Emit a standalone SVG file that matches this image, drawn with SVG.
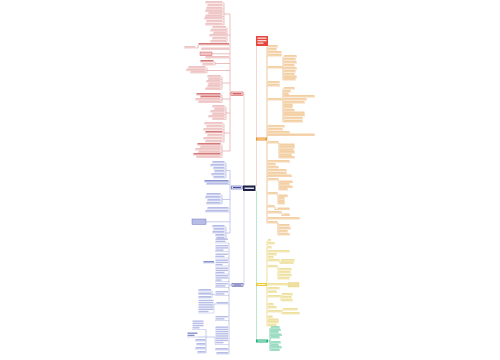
<svg xmlns="http://www.w3.org/2000/svg" width="500" height="360" viewBox="0 0 500 360">
<style>
path{fill:none;stroke-width:.5}
.r rect{fill:#efc4c4}.r path{stroke:#e3a3a3}.r .dk rect{fill:#d97a7a}
.b rect{fill:#b7bde6}.b path{stroke:#aeb5e2}.b .dk rect{fill:#8a92d0}
.o rect{fill:#f3cfa3}.o path{stroke:#e8b06e}
.y rect{fill:#eee0a0}.y path{stroke:#e6d170}
.g rect{fill:#9adcc0}.g path{stroke:#4fc195}
#conn path{stroke-width:.7}
</style>
<rect width="500" height="360" fill="#fff"/>
<g id="conn">
<path d="M256.5 186V46" stroke="#f1c4bf"/>
<path d="M256.5 191V341" stroke="#9edcc0"/>
<path d="M244 185.5V94H243" stroke="#f1c2c2"/>
<path d="M244 191V285H243" stroke="#bfc5ee"/>
<path d="M230 14V151M224 3V25M224 14H230M227 28V42M227 35H230M196 48H198V45M212 53.8H230M215 62V65M215 63.5H230M207 68V73M207 70.5H230M222 77V89.5M222 83H230M222 95V102.5M222 99H230M226 107V119.5M226 113H230M224 124V142M224 133H230M222 145V157.5M222 151H230M230 93.8H231" stroke="#e3a3a3"/>
<path d="M230 170.5V233M230 187.5H231.5M226 163V178M226 170.5H230M222 195V204M222 199.5H230M206 221.8H230M226 227V239M226 233H230" stroke="#aeb5e2"/>
<path d="M229 243V354M229 285H232M212 291V298M212 294.5H215M216 304H214M206 329.5V353M198 337H215" stroke="#aeb5e2"/>
<path d="M267 47V223M266.5 139H267M283 57V80M283 89V122M279 143V158M279 180V190M278 194V204M275 207V209.5H277M282 213V215.5H283M278 223V235" stroke="#e8b06e"/>
<path d="M267 241V326M280 261V263.5M278 267V279M281 295V301M282 310V314" stroke="#e6d170"/>
<path d="M270 328V350.5M268 341H270" stroke="#4fc195"/>
</g>
<g id="title"><rect x="256" y="36" width="12" height="10" fill="#e5463e"/><rect x="257.5" y="37.5" width="9" height="1.3" fill="#fbd9d6"/><rect x="257.5" y="40" width="9" height="1.3" fill="#fbd9d6"/><rect x="257.5" y="42.5" width="6" height="1.3" fill="#fbd9d6"/></g>
<g id="center"><rect x="243" y="185.5" width="12.5" height="5.5" fill="#1d2040"/><rect x="244.5" y="187.5" width="9.5" height="1.5" fill="#d8dbf0"/></g>
<g id="n-red"><rect x="231" y="92" width="12" height="3.6" fill="#fbe3e3" stroke="#c8383c" stroke-width=".5"/><rect x="232.5" y="93.2" width="9" height="1.2" fill="#c84848"/></g>
<g id="n-bluemid"><rect x="231.5" y="186" width="11" height="3" fill="#e3e6f8" stroke="#3b3f95" stroke-width=".5"/><rect x="233" y="187" width="8" height="1" fill="#4a4fa0"/></g>
<g id="n-bluebot"><rect x="232" y="283.5" width="11" height="3" fill="#e3e6f8" stroke="#3b3f95" stroke-width=".5"/><rect x="233.5" y="284.5" width="8" height="1" fill="#4a4fa0"/></g>
<g id="n-orange"><rect x="256" y="137.5" width="11" height="3" fill="#e8952c"/><rect x="257.5" y="138.5" width="8" height="1" fill="#fde6c8"/></g>
<g id="n-yellow"><rect x="256" y="283" width="11" height="3" fill="#eccb3a"/><rect x="257.5" y="284" width="8" height="1" fill="#fff6d0"/></g>
<g id="n-green"><rect x="256" y="339.5" width="12" height="3" fill="#22b07a"/><rect x="257.5" y="340.5" width="9" height="1" fill="#d8f5e8"/></g>
<g class="r">
<g id="ra1"><rect x="205.5" y="1" width="17" height="1.6"/><path d="M205 3H224"/></g>
<g id="ra2"><rect x="207.5" y="4" width="15" height="1.6"/><path d="M207 6H224"/></g>
<g id="ra3"><rect x="206.5" y="7" width="16" height="1.6"/><path d="M206 9H224"/></g>
<g id="ra4"><rect x="205.5" y="9.5" width="17" height="1.6"/><path d="M205 11.5H224"/></g>
<g id="ra5"><rect x="208.5" y="12" width="14" height="1.6"/><path d="M208 14H224"/></g>
<g id="ra6"><rect x="205.5" y="14.5" width="17" height="1.6"/><path d="M205 16.5H224"/></g>
<g id="ra7"><rect x="204.5" y="17" width="18" height="1.6"/><path d="M204 19H224"/></g>
<g id="ra8"><rect x="206.5" y="20" width="16" height="1.6"/><path d="M206 22H224"/></g>
<g id="ra9"><rect x="205.5" y="23" width="17" height="1.6"/><path d="M205 25H224"/></g>
<g id="rb1"><rect x="212.5" y="26" width="13.5" height="1.6"/><path d="M212 28H227"/></g>
<g id="rb2"><rect x="210.5" y="29" width="15.5" height="1.6"/><path d="M210 31H227"/></g>
<g id="rb3"><rect x="213.5" y="31.5" width="12.5" height="1.6"/><path d="M213 33.5H227"/></g>
<g id="rb4"><rect x="209.5" y="34" width="16.5" height="1.6"/><path d="M209 36H227"/></g>
<g id="rb5"><rect x="212.5" y="37" width="13.5" height="1.6"/><path d="M212 39H227"/></g>
<g id="rb6"><rect x="210.5" y="40" width="15.5" height="1.6"/><path d="M210 42H227"/></g>
<g id="rc" class="dk"><rect x="198.5" y="43" width="30.5" height="1.6"/><path d="M198 45H230"/></g>
<g id="rc1"><rect x="184.5" y="46" width="11" height="1.6"/><path d="M184 48H196"/></g>
<g id="rd"><rect x="201.5" y="47.5" width="27.5" height="1.6"/><path d="M201 49.5H230"/></g>
<g id="re"><rect x="200" y="52" width="12" height="3.6" fill="#fde8e8" stroke="#d04040" stroke-width=".4"/><rect x="201.3" y="53.2" width="9.4" height="1.2" fill="#d05050"/></g>
<g id="rf"><rect x="205.5" y="56" width="23.5" height="1.6"/><path d="M205 58H230"/></g>
<g id="rg1" class="dk"><rect x="200.5" y="60" width="13" height="1.6"/><path d="M200 62H215"/></g>
<g id="rg2"><rect x="202.5" y="63" width="11" height="1.6"/><path d="M202 65H215"/></g>
<g id="rh1"><rect x="188.5" y="66" width="17" height="1.6"/><path d="M188 68H207"/></g>
<g id="rh2"><rect x="186.5" y="68.5" width="19" height="1.6"/><path d="M186 70.5H207"/></g>
<g id="rh3"><rect x="190.5" y="71" width="15" height="1.6"/><path d="M190 73H207"/></g>
<g id="ri1"><rect x="207.5" y="75" width="13" height="1.6"/><path d="M207 77H222"/></g>
<g id="ri2"><rect x="208.5" y="77.5" width="12" height="1.6"/><path d="M208 79.5H222"/></g>
<g id="ri3"><rect x="206.5" y="80" width="14" height="1.6"/><path d="M206 82H222"/></g>
<g id="ri4"><rect x="208.5" y="82.5" width="12" height="1.6"/><path d="M208 84.5H222"/></g>
<g id="ri5"><rect x="207.5" y="85" width="13" height="1.6"/><path d="M207 87H222"/></g>
<g id="ri6"><rect x="205.5" y="87.5" width="15" height="1.6"/><path d="M205 89.5H222"/></g>
<g id="rj1" class="dk"><rect x="196.5" y="93" width="24" height="1.6"/><path d="M196 95H222"/></g>
<g id="rj2" class="dk"><rect x="200.5" y="95.5" width="20" height="1.6"/><path d="M200 97.5H222"/></g>
<g id="rj3"><rect x="195.5" y="98" width="25" height="1.6"/><path d="M195 100H222"/></g>
<g id="rj4"><rect x="198.5" y="100.5" width="22" height="1.6"/><path d="M198 102.5H222"/></g>
<g id="rk1"><rect x="212.5" y="105" width="12" height="1.6"/><path d="M212 107H226"/></g>
<g id="rk2"><rect x="214.5" y="107.5" width="10" height="1.6"/><path d="M214 109.5H226"/></g>
<g id="rk3"><rect x="210.5" y="110" width="14" height="1.6"/><path d="M210 112H226"/></g>
<g id="rk4"><rect x="212.5" y="112.5" width="12" height="1.6"/><path d="M212 114.5H226"/></g>
<g id="rk5"><rect x="208.5" y="115" width="16" height="1.6"/><path d="M208 117H226"/></g>
<g id="rk6"><rect x="212.5" y="117.5" width="12" height="1.6"/><path d="M212 119.5H226"/></g>
<g id="rl1"><rect x="204.5" y="122" width="18" height="1.6"/><path d="M204 124H224"/></g>
<g id="rl2"><rect x="206.5" y="125" width="16" height="1.6"/><path d="M206 127H224"/></g>
<g id="rl3"><rect x="203.5" y="128" width="19" height="1.6"/><path d="M203 130H224"/></g>
<g id="rl4" class="dk"><rect x="205.5" y="131" width="17" height="1.6"/><path d="M205 133H224"/></g>
<g id="rl5"><rect x="207.5" y="134" width="15" height="1.6"/><path d="M207 136H224"/></g>
<g id="rl6"><rect x="203.5" y="137" width="19" height="1.6"/><path d="M203 139H224"/></g>
<g id="rl7"><rect x="205.5" y="140" width="17" height="1.6"/><path d="M205 142H224"/></g>
<g id="rm1" class="dk"><rect x="197.5" y="143" width="23" height="1.6"/><path d="M197 145H222"/></g>
<g id="rm2"><rect x="200.5" y="145.5" width="20" height="1.6"/><path d="M200 147.5H222"/></g>
<g id="rm3"><rect x="195.5" y="148" width="25" height="1.6"/><path d="M195 150H222"/></g>
<g id="rm4"><rect x="198.5" y="150.5" width="22" height="1.6"/><path d="M198 152.5H222"/></g>
<g id="rm5" class="dk"><rect x="193.5" y="153" width="27" height="1.6"/><path d="M193 155H222"/></g>
<g id="rm6"><rect x="196.5" y="155.5" width="24" height="1.6"/><path d="M196 157.5H222"/></g>
</g>
<g class="b">
<g id="bn1"><rect x="212.5" y="161" width="12" height="1.6"/><path d="M212 163H226"/></g>
<g id="bn2"><rect x="210.5" y="164" width="14" height="1.6"/><path d="M210 166H226"/></g>
<g id="bn3"><rect x="213.5" y="167" width="11" height="1.6"/><path d="M213 169H226"/></g>
<g id="bn4"><rect x="214.5" y="170" width="10" height="1.6"/><path d="M214 172H226"/></g>
<g id="bn5"><rect x="211.5" y="173" width="13" height="1.6"/><path d="M211 175H226"/></g>
<g id="bn6"><rect x="213.5" y="176" width="11" height="1.6"/><path d="M213 178H226"/></g>
<g id="bo1" class="dk"><rect x="204.5" y="180" width="24" height="1.6"/><path d="M204 182H230"/></g>
<g id="bo2"><rect x="206.5" y="182.5" width="22" height="1.6"/><path d="M206 184.5H230"/></g>
<g id="bp1"><rect x="206.5" y="193" width="14" height="1.6"/><path d="M206 195H222"/></g>
<g id="bp2"><rect x="205.5" y="196" width="15" height="1.6"/><path d="M205 198H222"/></g>
<g id="bp3"><rect x="207.5" y="199" width="13" height="1.6"/><path d="M207 201H222"/></g>
<g id="bp4"><rect x="206.5" y="202" width="14" height="1.6"/><path d="M206 204H222"/></g>
<g id="bq1"><rect x="207.5" y="207" width="21" height="1.6"/><path d="M207 209H230"/></g>
<g id="bq2"><rect x="205.5" y="210" width="23" height="1.6"/><path d="M205 212H230"/></g>
<g id="bbox"><rect x="192" y="219" width="14" height="5.5" fill="#eef0fb" stroke="#5a60b0" stroke-width=".4"/><rect x="193.3" y="220.3" width="11.4" height="1.2" fill="#6a70b8"/><rect x="193.3" y="222.3" width="9" height="1.2" fill="#6a70b8"/></g>
<g id="br1"><rect x="212.5" y="225" width="12" height="1.6"/><path d="M212 227H226"/></g>
<g id="br2"><rect x="213.5" y="228" width="11" height="1.6"/><path d="M213 230H226"/></g>
<g id="br3"><rect x="212.5" y="231" width="12" height="1.6"/><path d="M212 233H226"/></g>
<g id="br4"><rect x="215.5" y="234" width="9" height="1.6"/><path d="M215 236H226"/></g>
<g id="br5"><rect x="216.5" y="237" width="8" height="1.6"/><path d="M216 239H226"/></g>
<g id="bs1"><rect x="215.5" y="238.5" width="12.5" height="1.4"/><rect x="215.5" y="240.7" width="10" height="1.4"/><path d="M215 243H229"/></g>
<g id="bs2"><rect x="215.5" y="245" width="12.5" height="1.4"/><rect x="215.5" y="247.2" width="12.5" height="1.4"/><rect x="215.5" y="249.4" width="8" height="1.4"/><path d="M215 251.5H229"/></g>
<g id="bs3"><rect x="215.5" y="253.5" width="12.5" height="1.4"/><rect x="215.5" y="255.7" width="9" height="1.4"/><path d="M215 258H229"/></g>
<g id="bs4"><rect x="215.5" y="259.5" width="12.5" height="1.4"/><rect x="215.5" y="261.7" width="12.5" height="1.4"/><rect x="215.5" y="263.9" width="7" height="1.4"/><path d="M215 266H229"/></g>
<g id="bs4a" class="dk"><rect x="203.5" y="261" width="10.5" height="1.6"/><path d="M203 263H215"/></g>
<g id="bs5"><rect x="215.5" y="267.5" width="12.5" height="1.4"/><rect x="215.5" y="269.7" width="12.5" height="1.4"/><rect x="215.5" y="271.9" width="9" height="1.4"/><path d="M215 274H229"/></g>
<g id="bs6"><rect x="215.5" y="275" width="12.5" height="1.4"/><rect x="215.5" y="277.2" width="12.5" height="1.4"/><rect x="215.5" y="279.4" width="6" height="1.4"/><path d="M215 281.5H229"/></g>
<g id="bs7"><rect x="215.5" y="283" width="12.5" height="1.4"/><rect x="215.5" y="285.2" width="10" height="1.4"/><path d="M215 287.5H229"/></g>
<g id="bs8"><rect x="215.5" y="291" width="12.5" height="1.4"/><rect x="215.5" y="293.2" width="9" height="1.4"/><path d="M215 295.5H229"/></g>
<g id="bt1"><rect x="198.5" y="289" width="12.5" height="1.6"/><path d="M198 291H212"/></g>
<g id="bt2"><rect x="198.5" y="292.5" width="12.5" height="1.6"/><path d="M198 294.5H212"/></g>
<g id="bt3"><rect x="198.5" y="296" width="12.5" height="1.6"/><path d="M198 298H212"/></g>
<g id="bu"><rect x="216.5" y="302" width="11.5" height="1.6"/><path d="M216 304H229"/></g>
<g id="bu1"><rect x="198.5" y="299.8" width="15" height="1.4"/><rect x="198.5" y="302" width="15" height="1.4"/><rect x="198.5" y="304.2" width="15" height="1.4"/><rect x="198.5" y="306.4" width="15" height="1.4"/><rect x="198.5" y="308.6" width="15" height="1.4"/><rect x="198.5" y="310.8" width="10" height="1.4"/><path d="M198 313H214V304"/></g>
<g id="bv"><rect x="215.5" y="316" width="12.5" height="1.4"/><rect x="215.5" y="318.2" width="9" height="1.4"/><path d="M215 320.5H229"/></g>
<g id="bw"><rect x="215.5" y="326.5" width="12.5" height="1.4"/><rect x="215.5" y="328.7" width="12.5" height="1.4"/><rect x="215.5" y="330.9" width="12.5" height="1.4"/><rect x="215.5" y="333.1" width="12.5" height="1.4"/><rect x="215.5" y="335.3" width="12.5" height="1.4"/><rect x="215.5" y="337.5" width="12.5" height="1.4"/><rect x="215.5" y="339.7" width="12.5" height="1.4"/><rect x="215.5" y="341.9" width="8" height="1.4"/><path d="M215 344.5H229M215 337V344.5"/></g>
<g id="bx1"><rect x="192.5" y="320.5" width="11" height="1.4"/><rect x="192.5" y="322.7" width="11" height="1.4"/><rect x="192.5" y="324.9" width="11" height="1.4"/><rect x="192.5" y="327.1" width="7" height="1.4"/><path d="M192 329.5H206"/></g>
<g id="bx2" class="dk"><rect x="187.5" y="332.5" width="10" height="1.4"/><rect x="187.5" y="334.7" width="7" height="1.4"/><path d="M187 337H198"/></g>
<g id="bx3"><rect x="195.5" y="339" width="10" height="1.6"/><path d="M195 341H206"/></g>
<g id="bx4"><rect x="196.5" y="343" width="9" height="1.6"/><path d="M196 345H206"/></g>
<g id="bx5"><rect x="195.5" y="347" width="10" height="1.6"/><path d="M195 349H206"/></g>
<g id="bx6"><rect x="197.5" y="351" width="8" height="1.6"/><path d="M197 353H206"/></g>
<g id="by1"><rect x="215.5" y="348" width="12.5" height="1.6"/><path d="M215 350H229"/></g>
<g id="by2"><rect x="216.5" y="352" width="11.5" height="1.6"/><path d="M216 354H229"/></g>
</g>
<g class="o">
<g id="o1"><rect x="268" y="45" width="9.5" height="1.6"/><path d="M267 47H278"/></g>
<g id="o2"><rect x="268" y="48" width="8.5" height="1.6"/><path d="M267 50H277"/></g>
<g id="o3"><rect x="268" y="51" width="13.5" height="1.6"/><path d="M267 53H282"/></g>
<g id="o4"><rect x="268" y="54" width="13.5" height="1.6"/><path d="M267 56H282"/></g>
<g id="o5"><rect x="268" y="66" width="14.5" height="1.6"/><path d="M267 68H283"/></g>
<g id="o5a"><rect x="284" y="55" width="12.5" height="1.6"/><path d="M283 57H297"/></g>
<g id="o5b"><rect x="284" y="58" width="11.5" height="1.6"/><path d="M283 60H296"/></g>
<g id="o5c"><rect x="284" y="61" width="12.5" height="1.6"/><path d="M283 63H297"/></g>
<g id="o5d"><rect x="284" y="64" width="10.5" height="1.6"/><path d="M283 66H295"/></g>
<g id="o5e"><rect x="284" y="67" width="12.5" height="1.6"/><path d="M283 69H297"/></g>
<g id="o5f"><rect x="284" y="70" width="11.5" height="1.6"/><path d="M283 72H296"/></g>
<g id="o5g"><rect x="284" y="73" width="10.5" height="1.6"/><path d="M283 75H295"/></g>
<g id="o5h"><rect x="284" y="75.5" width="12.5" height="1.6"/><path d="M283 77.5H297"/></g>
<g id="o5i"><rect x="284" y="78" width="11.5" height="1.6"/><path d="M283 80H296"/></g>
<g id="o6"><rect x="268" y="81" width="11.5" height="1.6"/><path d="M267 83H280"/></g>
<g id="o7"><rect x="268" y="84" width="11.5" height="1.6"/><path d="M267 86H280"/></g>
<g id="o8"><rect x="268" y="98" width="14.5" height="1.6"/><path d="M267 100H283"/></g>
<g id="o8a"><rect x="284" y="87" width="10.5" height="1.6"/><path d="M283 89H295"/></g>
<g id="o8b"><rect x="284" y="90" width="6.5" height="1.6"/><path d="M283 92H291"/></g>
<g id="o8c"><rect x="284" y="92.5" width="4.5" height="1.6"/><path d="M283 94.5H289"/></g>
<g id="o8d"><rect x="284" y="95" width="30.5" height="1.6"/><path d="M283 97H315"/></g>
<g id="o8e"><rect x="284" y="98" width="22.5" height="1.6"/><path d="M283 100H307"/></g>
<g id="o8f"><rect x="284" y="101" width="20.5" height="1.6"/><path d="M283 103H305"/></g>
<g id="o8g"><rect x="284" y="103.5" width="8.5" height="1.6"/><path d="M283 105.5H293"/></g>
<g id="o8h"><rect x="284" y="106" width="8.5" height="1.6"/><path d="M283 108H293"/></g>
<g id="o8i"><rect x="284" y="109" width="10.5" height="1.6"/><path d="M283 111H295"/></g>
<g id="o8j"><rect x="284" y="111.5" width="20.5" height="1.6"/><path d="M283 113.5H305"/></g>
<g id="o8k"><rect x="284" y="114" width="20.5" height="1.6"/><path d="M283 116H305"/></g>
<g id="o8l"><rect x="284" y="117" width="18.5" height="1.6"/><path d="M283 119H303"/></g>
<g id="o8m"><rect x="284" y="120" width="18.5" height="1.6"/><path d="M283 122H303"/></g>
<g id="o9"><rect x="268" y="125" width="16.5" height="1.6"/><path d="M267 127H285"/></g>
<g id="o10"><rect x="268" y="128" width="14.5" height="1.6"/><path d="M267 130H283"/></g>
<g id="o11"><rect x="268" y="131" width="21.5" height="1.6"/><path d="M267 133H290"/></g>
<g id="o12"><rect x="268" y="133.5" width="46.5" height="1.6"/><path d="M267 135.5H315"/></g>
<g id="o13"><rect x="268" y="141" width="10.5" height="1.6"/><path d="M267 143H279"/></g>
<g id="o13a"><rect x="280" y="143.5" width="14.5" height="1.6"/><path d="M279 145.5H295"/></g>
<g id="o13b"><rect x="280" y="146" width="14.5" height="1.6"/><path d="M279 148H295"/></g>
<g id="o13c"><rect x="280" y="148.5" width="13.5" height="1.6"/><path d="M279 150.5H294"/></g>
<g id="o13d"><rect x="280" y="151" width="14.5" height="1.6"/><path d="M279 153H295"/></g>
<g id="o13e"><rect x="280" y="153.5" width="11.5" height="1.6"/><path d="M279 155.5H292"/></g>
<g id="o13f"><rect x="280" y="156" width="14.5" height="1.6"/><path d="M279 158H295"/></g>
<g id="o14"><rect x="268" y="160" width="21.5" height="1.6"/><path d="M267 162H290"/></g>
<g id="o15"><rect x="268" y="163" width="7.5" height="1.6"/><path d="M267 165H276"/></g>
<g id="o16"><rect x="268" y="166" width="10.5" height="1.6"/><path d="M267 168H279"/></g>
<g id="o17"><rect x="268" y="169" width="18.5" height="1.6"/><path d="M267 171H287"/></g>
<g id="o18"><rect x="268" y="172" width="18.5" height="1.6"/><path d="M267 174H287"/></g>
<g id="o19"><rect x="268" y="174.5" width="23.5" height="1.6"/><path d="M267 176.5H292"/></g>
<g id="o20"><rect x="268" y="178" width="10.5" height="1.6"/><path d="M267 180H279"/></g>
<g id="o20a"><rect x="280" y="180.5" width="12.5" height="1.6"/><path d="M279 182.5H293"/></g>
<g id="o20b"><rect x="280" y="183" width="9.5" height="1.6"/><path d="M279 185H290"/></g>
<g id="o20c"><rect x="280" y="185.5" width="12.5" height="1.6"/><path d="M279 187.5H293"/></g>
<g id="o20d"><rect x="280" y="188" width="7.5" height="1.6"/><path d="M279 190H288"/></g>
<g id="o21"><rect x="268" y="192" width="9.5" height="1.6"/><path d="M267 194H278"/></g>
<g id="o21a"><rect x="279" y="194.5" width="8.5" height="1.6"/><path d="M278 196.5H288"/></g>
<g id="o21b"><rect x="279" y="197" width="5.5" height="1.6"/><path d="M278 199H285"/></g>
<g id="o21c"><rect x="279" y="199.5" width="5.5" height="1.6"/><path d="M278 201.5H285"/></g>
<g id="o21d"><rect x="279" y="202" width="5.5" height="1.6"/><path d="M278 204H285"/></g>
<g id="o22"><rect x="268" y="205" width="6.5" height="1.6"/><path d="M267 207H275"/></g>
<g id="o22a"><rect x="277.5" y="207.5" width="12" height="1.6"/><path d="M277 209.5H290"/></g>
<g id="o23"><rect x="268" y="211" width="13.5" height="1.6"/><path d="M267 213H282"/></g>
<g id="o23a"><rect x="283.5" y="213.5" width="6" height="1.6"/><path d="M283 215.5H290"/></g>
<g id="o24"><rect x="268" y="217" width="31.5" height="1.6"/><path d="M267 219H300"/></g>
<g id="o25"><rect x="268" y="221" width="9.5" height="1.6"/><path d="M267 223H278"/></g>
<g id="o25a"><rect x="279" y="224" width="10.5" height="1.6"/><path d="M278 226H290"/></g>
<g id="o25b"><rect x="279" y="227" width="11.5" height="1.6"/><path d="M278 229H291"/></g>
<g id="o25c"><rect x="279" y="230" width="8.5" height="1.6"/><path d="M278 232H288"/></g>
<g id="o25d"><rect x="279" y="233" width="10.5" height="1.6"/><path d="M278 235H290"/></g>
</g>
<g class="y">
<g id="y1"><rect x="268" y="239" width="3" height="1.6"/><path d="M267 241H271"/></g>
<g id="y2"><rect x="268" y="242" width="6.5" height="1.6"/><path d="M267 244H275"/></g>
<g id="y3"><rect x="268" y="246" width="3.5" height="1.6"/><path d="M267 248H272"/></g>
<g id="y4"><rect x="268" y="250" width="21.5" height="1.6"/><path d="M267 252H290"/></g>
<g id="y5"><rect x="268" y="253" width="8.5" height="1.6"/><path d="M267 255H277"/></g>
<g id="y6"><rect x="268" y="256" width="5.5" height="1.6"/><path d="M267 258H274"/></g>
<g id="y7"><rect x="268" y="259" width="11.5" height="1.6"/><path d="M267 261H280"/></g>
<g id="y7a"><rect x="281" y="259" width="13.5" height="1.6"/><path d="M280 261H295"/></g>
<g id="y7b"><rect x="281" y="261.5" width="12.5" height="1.6"/><path d="M280 263.5H294"/></g>
<g id="y8"><rect x="268" y="265" width="9.5" height="1.6"/><path d="M267 267H278"/></g>
<g id="y8a"><rect x="279" y="268" width="12.5" height="1.6"/><path d="M278 270H292"/></g>
<g id="y8b"><rect x="279" y="271" width="11.5" height="1.6"/><path d="M278 273H291"/></g>
<g id="y8c"><rect x="279" y="274" width="12.5" height="1.6"/><path d="M278 276H292"/></g>
<g id="y8d"><rect x="279" y="277" width="10.5" height="1.6"/><path d="M278 279H290"/></g>
<g id="y9"><rect x="268" y="283" width="19.5" height="1.6"/><path d="M267 285H288"/><rect x="288" y="282.5" width="11" height="4.5" fill="#fdf5cc" stroke="#e6d170" stroke-width=".4"/></g>
<g id="y10"><rect x="268" y="287" width="11.5" height="1.6"/><path d="M267 289H280"/></g>
<g id="y11"><rect x="268" y="290.5" width="8.5" height="1.6"/><path d="M267 292.5H277"/></g>
<g id="y12"><rect x="268" y="295" width="12.5" height="1.6"/><path d="M267 297H281"/></g>
<g id="y12a"><rect x="282" y="293" width="10.5" height="1.6"/><path d="M281 295H293"/></g>
<g id="y12b"><rect x="282" y="296" width="9.5" height="1.6"/><path d="M281 298H292"/></g>
<g id="y12c"><rect x="282" y="299" width="10.5" height="1.6"/><path d="M281 301H293"/></g>
<g id="y13"><rect x="268" y="303" width="5.5" height="1.6"/><path d="M267 305H274"/></g>
<g id="y14"><rect x="268" y="306" width="8.5" height="1.6"/><path d="M267 308H277"/></g>
<g id="y15"><rect x="268" y="310" width="13.5" height="1.6"/><path d="M267 312H282"/></g>
<g id="y15a"><rect x="283" y="308" width="14.5" height="1.6"/><path d="M282 310H298"/></g>
<g id="y15b"><rect x="283" y="312" width="16.5" height="1.6"/><path d="M282 314H300"/></g>
<g id="y16"><rect x="268" y="315.5" width="4.5" height="1.6"/><path d="M267 317.5H273"/></g>
<g id="y17"><rect x="268" y="318.5" width="10.5" height="1.6"/><path d="M267 320.5H279"/></g>
<g id="y18"><rect x="268" y="321" width="10.5" height="1.6"/><path d="M267 323H279"/></g>
<g id="y19"><rect x="268" y="324" width="8.5" height="1.6"/><path d="M267 326H277"/></g>
</g>
<g class="g">
<g id="g1"><rect x="271" y="326" width="8.5" height="1.6"/><path d="M270 328H280"/></g>
<g id="g2"><rect x="271" y="328.5" width="9.5" height="1.6"/><path d="M270 330.5H281"/></g>
<g id="g3"><rect x="271" y="331" width="7.5" height="1.6"/><path d="M270 333H279"/></g>
<g id="g4"><rect x="271" y="333.5" width="10.5" height="1.6"/><path d="M270 335.5H282"/></g>
<g id="g5"><rect x="271" y="336" width="8.5" height="1.6"/><path d="M270 338H280"/></g>
<g id="g6"><rect x="271" y="341" width="9.5" height="1.6"/><path d="M270 343H281"/></g>
<g id="g7"><rect x="271" y="343.5" width="7.5" height="1.6"/><path d="M270 345.5H279"/></g>
<g id="g8"><rect x="271" y="346" width="10.5" height="1.6"/><path d="M270 348H282"/></g>
<g id="g9"><rect x="271" y="348.5" width="8.5" height="1.6"/><path d="M270 350.5H280"/></g>
</g>
</svg>
